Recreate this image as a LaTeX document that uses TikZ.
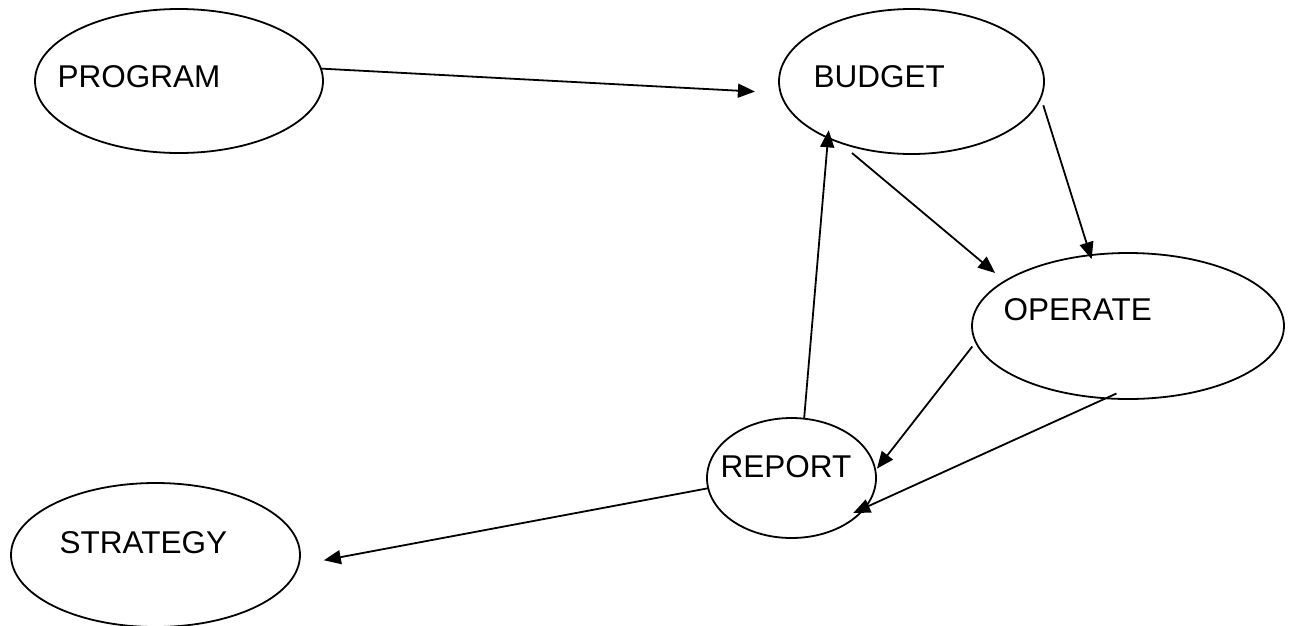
\documentclass[tikz,border=0pt]{standalone}
\usepackage{fontspec}
\setmainfont{Liberation Sans}
\usetikzlibrary{shapes.geometric,arrows.meta}
\begin{document}
\begin{tikzpicture}[x=1pt,y=-1pt,
  bubble/.style={ellipse,draw,line width=1.8pt,inner sep=0pt,outer sep=0pt},
  caption/.style={anchor=base west,inner sep=0pt,font=\fontsize{31.5}{36}\selectfont},
  flow/.style={line width=1.8pt,-{Triangle[length=17pt,width=14pt]}}]
\useasboundingbox (0,0) rectangle (1290,625);

% the five stages
\node[bubble,minimum width=288pt,minimum height=144pt] (program)  at (179,81) {};
\node[bubble,minimum width=265pt,minimum height=145pt] (budget)   at (911.5,81.5) {};
\node[bubble,minimum width=312pt,minimum height=146pt] (operate)  at (1128,326) {};
\node[bubble,minimum width=169pt,minimum height=120pt] (report)   at (791.5,478) {};
\node[bubble,minimum width=289pt,minimum height=144pt] (strategy) at (155.5,555) {};

% labels, set towards the upper left of each ellipse
\node[caption] (program-text)  at (57.5,87)   {PROGRAM};
\node[caption] (budget-text)   at (813.5,87)  {BUDGET};
\node[caption] (operate-text)  at (1003.5,320) {OPERATE};
\node[caption] (report-text)   at (720.5,477) {REPORT};
\node[caption] (strategy-text) at (59.5,553)  {STRATEGY};

% connectors
\draw[flow,shorten >=25.8pt] (program.5) -- (budget.185);
\draw[flow,shorten <=16.8pt,shorten >=12.8pt] (budget.220) -- (operate.160);
\draw[flow,shorten <=8.3pt,shorten >=-4.2pt] (budget.353) -- (operate.118);
\draw[flow,shorten <=5.7pt,shorten >=2.6pt] (operate.186) -- (report.5);
\draw[flow,shorten <=-11.6pt,shorten >=-12.9pt] (operate.253) -- (report.338);
\draw[flow,shorten >=-7.5pt] (report.78) -- (budget.214);
\draw[flow,shorten >=25.7pt] (report.187) -- (strategy.356);
\end{tikzpicture}
\end{document}
